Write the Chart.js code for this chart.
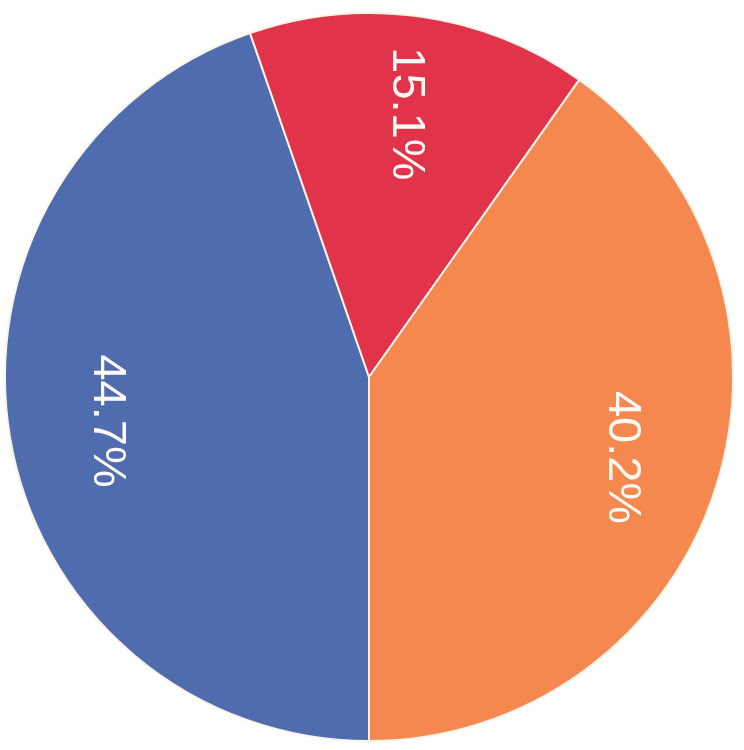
<!DOCTYPE html>
<html lang="en">
<head>
    <meta charset="UTF-8">
    <title>Pie</title>
    <style>
        body {
            margin: 0;
            background: #fff;
            width: 744px;
            height: 750px;
            overflow: hidden;
            position: relative;
        }
        #chart-container {
            position: absolute;
            left: 4px;
            top: 12px;
            width: 730px;
            height: 730px;
        }
    </style>
    <script src="https://cdn.jsdelivr.net/npm/chart.js"></script>
</head>
<body>
    <div id="chart-container">
        <canvas id="pie"></canvas>
    </div>
    <script>
        // slices, clockwise starting from straight down
        const categories = ['Blue', 'Red', 'Orange'];
        const shares = [44.7, 15.1, 40.2];
        const sliceColors = ['#4e6cae', '#e1344b', '#f5884f'];

        // white rotated percentage labels inside each slice
        const sliceLabels = {
            id: 'sliceLabels',
            afterDatasetsDraw(chart) {
                const ctx = chart.ctx;
                const meta = chart.getDatasetMeta(0);
                ctx.save();
                ctx.fillStyle = '#fdfaf5';
                ctx.font = '47px "Liberation Sans", Arial, sans-serif';
                ctx.textAlign = 'center';
                ctx.textBaseline = 'middle';
                meta.data.forEach((arc, i) => {
                    const p = arc.getProps(['x', 'y', 'startAngle', 'endAngle', 'outerRadius'], true);
                    const mid = (p.startAngle + p.endAngle) / 2;
                    const r = p.outerRadius * 0.73;
                    ctx.save();
                    ctx.translate(p.x + Math.cos(mid) * r, p.y + Math.sin(mid) * r);
                    ctx.rotate(Math.PI / 2);
                    ctx.fillText(shares[i].toFixed(1) + '%', 0, 0);
                    ctx.restore();
                });
                ctx.restore();
            }
        };

        new Chart(document.getElementById('pie'), {
            type: 'pie',
            data: {
                labels: categories,
                datasets: [{
                    data: shares,
                    backgroundColor: sliceColors,
                    borderColor: '#fbf3ea',
                    borderWidth: 2
                }]
            },
            options: {
                responsive: true,
                maintainAspectRatio: false,
                animation: false,
                rotation: 180,
                layout: { padding: 0 },
                plugins: {
                    legend: { display: false },
                    tooltip: { enabled: false }
                }
            },
            plugins: [sliceLabels]
        });
    </script>
</body>
</html>
